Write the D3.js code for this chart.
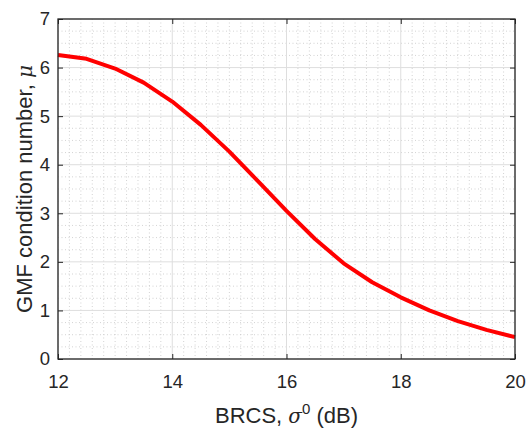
<!DOCTYPE html>
<html>
<head>
<meta charset="utf-8">
<script src="https://cdn.jsdelivr.net/npm/d3@7"></script>
<style>
  body { margin: 0; background: #fff; }
  svg { display: block; }
</style>
</head>
<body>
<script>
const WIDTH = 527;
const HEIGHT = 428;
const AXIS = '#262626';
const FONT = '"Liberation Sans", Arial, Helvetica, sans-serif';

// data
const brcs = [12, 12.5, 13, 13.5, 14, 14.5, 15, 15.5, 16, 16.5, 17, 17.5, 18, 18.5, 19, 19.5, 20];
const mu = [6.26, 6.18, 5.98, 5.69, 5.30, 4.82, 4.27, 3.66, 3.05, 2.47, 1.97, 1.58, 1.27, 1.00, 0.78, 0.60, 0.45];
const xTicks = [12, 14, 16, 18, 20];
const yTicks = [0, 1, 2, 3, 4, 5, 6, 7];

const plot = { left: 58, top: 19, right: 515, bottom: 359 };

const svg = d3.select('body').append('svg')
  .attr('width', WIDTH)
  .attr('height', HEIGHT)
  .attr('viewBox', `0 0 ${WIDTH} ${HEIGHT}`);

const x = d3.scaleLinear().domain([12, 20]).range([plot.left, plot.right]);
const y = d3.scaleLinear().domain([0, 7]).range([plot.bottom, plot.top]);

// minor grid (dotted)
const xMinor = d3.range(12.2, 20, 0.2).filter(v => Math.abs(v - Math.round(v / 2) * 2) > 1e-6);
const yMinor = d3.range(0.25, 7, 0.25).filter(v => Math.abs(v - Math.round(v)) > 1e-6);
const grid = svg.append('g');
grid.selectAll('.vminor').data(xMinor).join('line')
  .attr('x1', d => x(d)).attr('x2', d => x(d))
  .attr('y1', plot.top).attr('y2', plot.bottom)
  .attr('stroke', '#c8c8c8').attr('stroke-width', 0.8)
  .attr('stroke-dasharray', '1 2.5');
grid.selectAll('.hminor').data(yMinor).join('line')
  .attr('y1', d => y(d)).attr('y2', d => y(d))
  .attr('x1', plot.left).attr('x2', plot.right)
  .attr('stroke', '#c8c8c8').attr('stroke-width', 0.8)
  .attr('stroke-dasharray', '1 2.5');

// major grid
grid.selectAll('.vmajor').data(xTicks).join('line')
  .attr('x1', d => x(d)).attr('x2', d => x(d))
  .attr('y1', plot.top).attr('y2', plot.bottom)
  .attr('stroke', '#dedede').attr('stroke-width', 1);
grid.selectAll('.hmajor').data(yTicks).join('line')
  .attr('y1', d => y(d)).attr('y2', d => y(d))
  .attr('x1', plot.left).attr('x2', plot.right)
  .attr('stroke', '#dedede').attr('stroke-width', 1);

// curve
const line = d3.line().x((d, i) => x(brcs[i])).y(d => y(d));
svg.append('path')
  .datum(mu)
  .attr('d', line)
  .attr('fill', 'none')
  .attr('stroke', '#ff0000')
  .attr('stroke-width', 4)
  .attr('stroke-linejoin', 'round');

// axes (ticks inward, on all sides)
function styleAxis(g) {
  g.select('.domain').remove();
  g.selectAll('.tick line').attr('stroke', AXIS).attr('stroke-width', 1);
  g.selectAll('.tick text').attr('fill', AXIS).attr('font-family', FONT).attr('font-size', 18.5);
}

svg.append('g')
  .attr('transform', `translate(0,${plot.bottom})`)
  .call(d3.axisBottom(x).tickValues(xTicks).tickSizeInner(-5).tickSizeOuter(0).tickPadding(15.5).tickFormat(d3.format('d')))
  .call(styleAxis);
svg.append('g')
  .attr('transform', `translate(0,${plot.top})`)
  .call(d3.axisTop(x).tickValues(xTicks).tickSizeInner(-5).tickSizeOuter(0).tickFormat(''))
  .call(styleAxis);
svg.append('g')
  .attr('transform', `translate(${plot.left},0)`)
  .call(d3.axisLeft(y).tickValues(yTicks).tickSizeInner(-5).tickSizeOuter(0).tickPadding(8).tickFormat(d3.format('d')))
  .call(styleAxis);
svg.append('g')
  .attr('transform', `translate(${plot.right},0)`)
  .call(d3.axisRight(y).tickValues(yTicks).tickSizeInner(-5).tickSizeOuter(0).tickFormat(''))
  .call(styleAxis);

// box
svg.append('rect')
  .attr('x', plot.left).attr('y', plot.top)
  .attr('width', plot.right - plot.left).attr('height', plot.bottom - plot.top)
  .attr('fill', 'none').attr('stroke', AXIS).attr('stroke-width', 1.3);

// x label
const xl = svg.append('text')
  .attr('x', (plot.left + plot.right) / 2)
  .attr('y', 423)
  .attr('text-anchor', 'middle')
  .attr('font-family', FONT)
  .attr('font-size', 22)
  .attr('fill', AXIS);
xl.append('tspan').text('BRCS, ');
xl.append('tspan').attr('font-style', 'italic').attr('font-family', '"DejaVu Serif", serif').attr('font-size', 20).text('σ');
xl.append('tspan').attr('dy', -9).attr('font-size', 15).text('0');
xl.append('tspan').attr('dy', 9).text(' (dB)');

// y label
const yl = svg.append('text')
  .attr('transform', `translate(32,${(plot.top + plot.bottom) / 2}) rotate(-90)`)
  .attr('text-anchor', 'middle')
  .attr('font-family', FONT)
  .attr('font-size', 22)
  .attr('fill', AXIS);
yl.append('tspan').text('GMF condition number, ');
yl.append('tspan').attr('font-style', 'italic').attr('font-family', '"DejaVu Serif", serif').attr('font-size', 20).text('μ');
</script>
</body>
</html>
